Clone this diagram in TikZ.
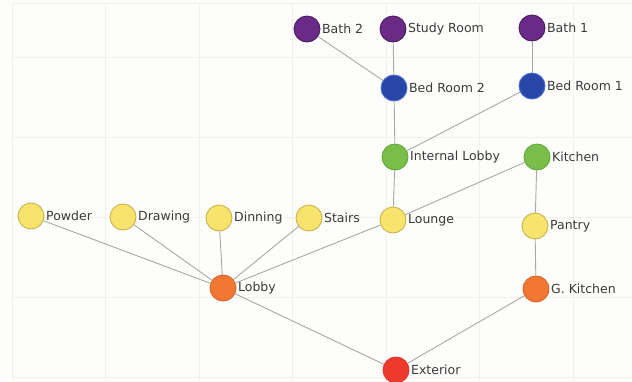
\documentclass[tikz,border=0pt]{standalone}
\usepackage{fontspec}
\setmainfont{DejaVu Sans}
\begin{document}
\begin{tikzpicture}[x=1pt,y=-1pt,
  room/.style={circle,minimum size=26pt,inner sep=0pt,line width=0.9pt},
  purpleroom/.style={room,fill=roomPurple,draw=roomPurpleD},
  blueroom/.style={room,fill=roomBlue,draw=roomBlueD},
  greenroom/.style={room,fill=roomGreen,draw=roomGreenD},
  yellowroom/.style={room,fill=roomYellow,draw=roomYellowD},
  orangeroom/.style={room,fill=roomOrange,draw=roomOrangeD},
  redroom/.style={room,fill=roomRed,draw=roomRedD},
  tag/.style={anchor=west,inner sep=1.5pt,text=tagText,font=\fontsize{12.5}{13}\selectfont},
  link/.style={draw=linkGray,line width=0.9pt}]
\definecolor{roomPurple}{HTML}{6A2A86}
\definecolor{roomPurpleD}{HTML}{4B1C60}
\definecolor{roomBlue}{HTML}{2846A6}
\definecolor{roomBlueD}{HTML}{4A6CD6}
\definecolor{roomGreen}{HTML}{78BE48}
\definecolor{roomGreenD}{HTML}{62A83C}
\definecolor{roomYellow}{HTML}{F8E46C}
\definecolor{roomYellowD}{HTML}{C8B34C}
\definecolor{roomOrange}{HTML}{F07830}
\definecolor{roomOrangeD}{HTML}{D8642A}
\definecolor{roomRed}{HTML}{EE3A2A}
\definecolor{roomRedD}{HTML}{E0342A}
\definecolor{tagText}{HTML}{3A3A3A}
\definecolor{linkGray}{HTML}{A8A8A4}
\definecolor{gridLine}{HTML}{F1F1EA}
\definecolor{paper}{HTML}{FDFDFB}

\useasboundingbox (0,0) rectangle (632,381);
\fill[paper] (0,0) rectangle (632,381);

% background grid
\foreach \gx in {12,105.5,199,292.5,386,479.5,573}
  \draw[gridLine,line width=1pt] (\gx,3) -- (\gx,381);
\foreach \gy in {3,57,137,217,297,377}
  \draw[gridLine,line width=1pt] (12,\gy) -- (632,\gy);

% rooms
\node[purpleroom] (bath2) at (307,29) {};
\node[purpleroom] (study) at (393,29) {};
\node[purpleroom] (bath1) at (532,28) {};
\node[blueroom] (bed2) at (394,88) {};
\node[blueroom] (bed1) at (532,86) {};
\node[greenroom] (ilobby) at (395,157) {};
\node[greenroom] (kitchen) at (537,157) {};
\node[yellowroom] (powder) at (31,216) {};
\node[yellowroom] (drawing) at (123,217) {};
\node[yellowroom] (dinning) at (219,218) {};
\node[yellowroom] (stairs) at (309,218) {};
\node[yellowroom] (lounge) at (393,220) {};
\node[yellowroom] (pantry) at (535,226) {};
\node[orangeroom] (lobby) at (223,288) {};
\node[orangeroom] (gkitchen) at (536,289) {};
\node[redroom] (exterior) at (396,370) {};

% connections
\draw[link] (bath2) -- (bed2);
\draw[link] (study) -- (bed2);
\draw[link] (bath1) -- (bed1);
\draw[link] (bed2) -- (ilobby);
\draw[link] (bed1) -- (ilobby);
\draw[link] (ilobby) -- (lounge);
\draw[link] (kitchen) -- (lounge);
\draw[link] (kitchen) -- (pantry);
\draw[link] (pantry) -- (gkitchen);
\draw[link] (gkitchen) -- (exterior);
\draw[link] (lobby) -- (exterior);
\draw[link] (lobby) -- (powder);
\draw[link] (lobby) -- (drawing);
\draw[link] (lobby) -- (dinning);
\draw[link] (lobby) -- (stairs);
\draw[link] (lobby) -- (lounge);

% labels
\node[tag] (tbath2) at (bath2.east) {Bath 2};
\node[tag] (tstudy) at (study.east) {Study Room};
\node[tag] (tbath1) at (bath1.east) {Bath 1};
\node[tag] (tbed2) at (bed2.east) {Bed Room 2};
\node[tag] (tbed1) at (bed1.east) {Bed Room 1};
\node[tag] (tilobby) at (ilobby.east) {Internal Lobby};
\node[tag] (tkitchen) at (kitchen.east) {Kitchen};
\node[tag] (tpowder) at (powder.east) {Powder};
\node[tag] (tdrawing) at (drawing.east) {Drawing};
\node[tag] (tdinning) at (dinning.east) {Dinning};
\node[tag] (tstairs) at (stairs.east) {Stairs};
\node[tag] (tlounge) at (lounge.east) {Lounge};
\node[tag] (tpantry) at (pantry.east) {Pantry};
\node[tag] (tlobby) at (lobby.east) {Lobby};
\node[tag] (tgkitchen) at (gkitchen.east) {G. Kitchen};
\node[tag] (texterior) at (exterior.east) {Exterior};
\end{tikzpicture}
\end{document}
